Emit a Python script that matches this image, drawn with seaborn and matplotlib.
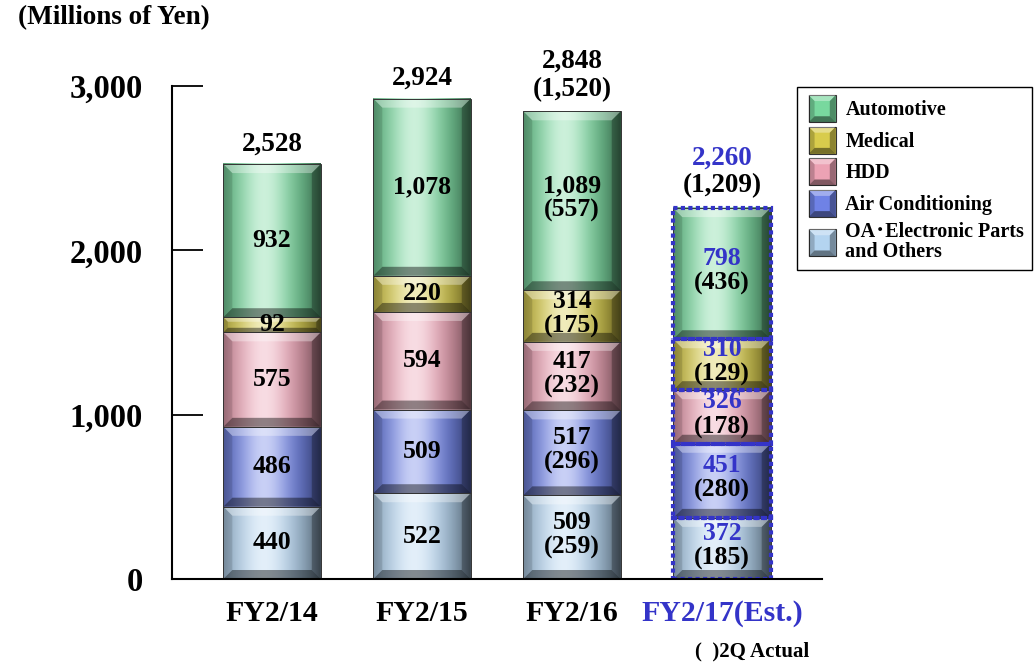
import numpy as np
import matplotlib
matplotlib.use("Agg")
import matplotlib.pyplot as plt
import seaborn as sns
from matplotlib.patches import Rectangle, Polygon
from matplotlib.legend_handler import HandlerBase
from matplotlib.transforms import blended_transform_factory
import matplotlib.colors as mcolors

# ---------------- data ----------------
categories = ["FY2/14", "FY2/15", "FY2/16", "FY2/17(Est.)"]
series_names = ["OA･Electronic Parts\nand Others", "Air Conditioning", "HDD", "Medical", "Automotive"]
oa_vals = [440, 522, 509, 372]
air_vals = [486, 509, 517, 451]
hdd_vals = [575, 594, 417, 326]
med_vals = [92, 220, 314, 310]
auto_vals = [932, 1078, 1089, 798]
total_labels = ["2,528", "2,924", "2,848", "2,260"]
# 2Q actual figures (shown in parentheses)
oa_actual = [None, None, 259, 185]
air_actual = [None, None, 296, 280]
hdd_actual = [None, None, 232, 178]
med_actual = [None, None, 175, 129]
auto_actual = [None, None, 557, 436]
total_actual = [None, None, "1,520", "1,209"]
ytick_vals = [0, 1000, 2000, 3000]
ytick_labels = ["0", "1,000", "2,000", "3,000"]

series_vals = [oa_vals, air_vals, hdd_vals, med_vals, auto_vals]
series_actual = [oa_actual, air_actual, hdd_actual, med_actual, auto_actual]
series_colors = ["#b4d4f0", "#6f82e6", "#eca2b4", "#d8cc4c", "#78d89e"]

BLUE = "#3434c8"
FONT = ["Liberation Serif", "Noto Sans CJK JP", "DejaVu Sans"]

sns.set_style("white")
plt.rcParams["font.family"] = FONT
plt.rcParams["font.weight"] = "bold"
plt.rcParams["text.color"] = "black"
plt.rcParams["xtick.color"] = "black"
plt.rcParams["ytick.color"] = "black"
plt.rcParams["axes.labelcolor"] = "black"

fig = plt.figure(figsize=(10.35, 6.64), dpi=100)
ax = fig.add_axes([0.1662, 0.128, 0.628, 0.7425])

bottom = np.zeros(len(categories))
patches_by_series = []
for vals, color in zip(series_vals, series_colors):
    n0 = len(ax.patches)
    sns.barplot(x=categories, y=vals, bottom=bottom.copy(), order=categories,
                width=0.65, color=color, saturation=1, errorbar=None,
                linewidth=0, ax=ax)
    patches_by_series.append(list(ax.patches[n0:]))
    bottom = bottom + np.array(vals)

XLIM = (-0.667, 3.667)
YLIM = (0, 3000)
ax.set_xlim(*XLIM)
ax.set_ylim(*YLIM)

# pixel -> data scale
ax_w_px = 0.628 * 1035
ax_h_px = 0.7425 * 664
px_x = (XLIM[1] - XLIM[0]) / ax_w_px
px_y = (YLIM[1] - YLIM[0]) / ax_h_px


def grad_image(color):
    base = np.array(mcolors.to_rgb(color))
    t = np.linspace(0, 1, 80)
    light = 0.62 * np.exp(-((t - 0.42) / 0.26) ** 2)
    dark = 0.55 * (np.abs(t - 0.42) / 0.58) ** 2.2
    c = base[None, :] + (1 - base[None, :]) * light[:, None]
    c = c * (1 - dark[:, None])
    return np.clip(c, 0, 1)[None, :, :]


def bevel(ax, x0, y0, w, h, z):
    bpx = 9.0
    by = min(bpx * px_y, h * 0.3)
    bx = by / px_y * px_x
    x1, y1 = x0 + w, y0 + h
    polys = [
        ([(x0, y1), (x1, y1), (x1 - bx, y1 - by), (x0 + bx, y1 - by)], "white", 0.35),
        ([(x0, y0), (x1, y0), (x1 - bx, y0 + by), (x0 + bx, y0 + by)], "black", 0.42),
        ([(x0, y0), (x0 + bx, y0 + by), (x0 + bx, y1 - by), (x0, y1)], "black", 0.12),
        ([(x1, y0), (x1 - bx, y0 + by), (x1 - bx, y1 - by), (x1, y1)], "black", 0.28),
    ]
    for pts, col, a in polys:
        ax.add_patch(Polygon(pts, closed=True, facecolor=col, alpha=a,
                             edgecolor="none", zorder=z))


for si, plist in enumerate(patches_by_series):
    img = grad_image(series_colors[si])
    for ci, p in enumerate(plist):
        x0, y0 = p.get_x(), p.get_y()
        w, h = p.get_width(), p.get_height()
        ax.imshow(img, extent=[x0, x0 + w, y0, y0 + h], aspect="auto",
                  interpolation="bilinear", zorder=1.5)
        bevel(ax, x0, y0, w, h, 1.6)
        ax.add_patch(Rectangle((x0, y0), w, h, fill=False, edgecolor="#333333",
                               lw=0.7, zorder=1.7))
        if ci == 3:
            ax.add_patch(Rectangle((x0, y0), w, h, fill=False, edgecolor=BLUE,
                                   lw=3.0, linestyle=(0, (1.0, 0.8)), zorder=2.5))
        # labels
        val = series_vals[si][ci]
        act = series_actual[si][ci]
        cx = x0 + w / 2
        cy = y0 + h / 2
        vcol = BLUE if ci == 3 else "black"
        if act is None:
            ax.annotate(f"{val:,}", (cx, cy), ha="center", va="center",
                        fontsize=18.5, fontweight="bold", color=vcol, zorder=4)
        else:
            ax.annotate(f"{val:,}", (cx, cy), xytext=(0, 15), textcoords="offset pixels",
                        ha="center", va="center", fontsize=18.5, fontweight="bold",
                        color=vcol, zorder=4)
            ax.annotate(f"({act:,})", (cx, cy), xytext=(0, -10), textcoords="offset pixels",
                        ha="center", va="center", fontsize=18.5, fontweight="bold",
                        color="black", zorder=4)

ax.set_xlim(*XLIM)
ax.set_ylim(*YLIM)

# totals above bars
for ci in range(len(categories)):
    top = sum(s[ci] for s in series_vals)
    tcol = BLUE if ci == 3 else "black"
    if total_actual[ci] is None:
        ax.annotate(total_labels[ci], (ci, top), xytext=(0, 20), textcoords="offset pixels",
                    ha="center", va="center", fontsize=19.5, fontweight="bold",
                    color=tcol, annotation_clip=False)
    else:
        ax.annotate(total_labels[ci], (ci, top), xytext=(0, 50), textcoords="offset pixels",
                    ha="center", va="center", fontsize=19.5, fontweight="bold",
                    color=tcol, annotation_clip=False)
        ax.annotate(f"({total_actual[ci]})", (ci, top), xytext=(0, 22), textcoords="offset pixels",
                    ha="center", va="center", fontsize=19.5, fontweight="bold",
                    color="black", annotation_clip=False)

# axes styling
for s in ["top", "right"]:
    ax.spines[s].set_visible(False)
for s in ["left", "bottom"]:
    ax.spines[s].set_color("black")
    ax.spines[s].set_linewidth(1.5)
ax.set_yticks(ytick_vals)
ax.set_yticklabels(ytick_labels, fontsize=23.5, fontweight="bold")
ax.tick_params(axis="y", direction="in", length=22, width=1.3, pad=21, left=True,
               colors="black")
ax.set_xticks(range(len(categories)))
ax.set_xticklabels(categories, fontsize=21.5, fontweight="bold")
ax.tick_params(axis="x", length=0, pad=15, colors="black")
ax.get_xticklabels()[3].set_color(BLUE)
ax.set_xlabel("")
ax.set_ylabel("")
ax.grid(False)

trans = blended_transform_factory(ax.transData, ax.transAxes)
ax.text(3.2, -0.146, "(  )2Q Actual", transform=trans, ha="center", va="center",
        fontsize=15, fontweight="bold", color="black")

fig.text(18 / 1035, 1 - 18 / 664, "(Millions of Yen)", ha="left", va="center",
         fontsize=19.5, fontweight="bold", color="black")


# legend with bevelled squares
class BevelHandler(HandlerBase):
    def create_artists(self, legend, orig_handle, xdescent, ydescent, width, height,
                       fontsize, trans):
        color = orig_handle.get_facecolor()
        x0, y0 = -xdescent, -ydescent
        s = min(width, height)
        x0 = x0 + (width - s) / 2
        y0 = y0 + (height - s) / 2
        base = np.array(mcolors.to_rgb(color))
        arts = [Rectangle((x0, y0), s, s, facecolor=base, edgecolor="#333333",
                          lw=0.8, transform=trans)]
        b = s * 0.22
        x1, y1 = x0 + s, y0 + s
        polys = [
            ([(x0, y1), (x1, y1), (x1 - b, y1 - b), (x0 + b, y1 - b)], "white", 0.35),
            ([(x0, y0), (x1, y0), (x1 - b, y0 + b), (x0 + b, y0 + b)], "black", 0.45),
            ([(x0, y0), (x0 + b, y0 + b), (x0 + b, y1 - b), (x0, y1)], "black", 0.2),
            ([(x1, y0), (x1 - b, y0 + b), (x1 - b, y1 - b), (x1, y1)], "black", 0.35),
        ]
        for pts, col, a in polys:
            arts.append(Polygon(pts, closed=True, facecolor=col, alpha=a,
                                edgecolor="none", transform=trans))
        return arts


handles = [Rectangle((0, 0), 1, 1, facecolor=c) for c in series_colors][::-1]
labels = series_names[::-1]
leg = fig.legend(handles, labels, loc="upper left", bbox_to_anchor=(797 / 1035, 1 - 87 / 664),
                 handler_map={Rectangle: BevelHandler()},
                 prop={"family": FONT, "weight": "bold", "size": 14.5},
                 frameon=True, fancybox=False, edgecolor="black", framealpha=1,
                 handlelength=1.7, handleheight=1.7, handletextpad=0.3,
                 labelspacing=0.22, borderpad=0.4, borderaxespad=0)
leg.get_frame().set_linewidth(1.0)
for t in leg.get_texts():
    t.set_linespacing(1.05)
    t.set_color("black")

fig.savefig("out.png", dpi=100)
